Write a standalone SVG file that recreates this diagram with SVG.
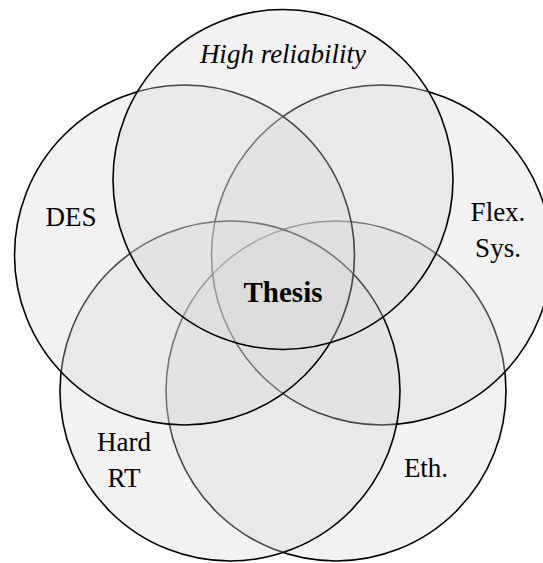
<svg xmlns="http://www.w3.org/2000/svg" width="543" height="563" viewBox="0 0 543 563">
  <style>
    .set { fill: #d7d7d7; fill-opacity: 0.325; stroke: #000; stroke-width: 1.6; }
    .lbl { font-family: "Liberation Serif", "Times New Roman", serif; font-size: 27px; fill: #000; text-anchor: middle; }
    .it { font-style: italic; }
    .bold { font-weight: bold; font-size: 29px; }
  </style>
  <rect width="543" height="563" fill="#fff"/>
  <!-- sets drawn back to front so later fills tint earlier outlines -->
  <g id="eth"><circle class="set" cx="336" cy="391" r="170"/></g>
  <g id="flex-sys"><circle class="set" cx="381.5" cy="255" r="170"/></g>
  <g id="hard-rt"><circle class="set" cx="230" cy="391" r="170"/></g>
  <g id="des"><circle class="set" cx="184.5" cy="255" r="170"/></g>
  <g id="high-reliability"><circle class="set" cx="283" cy="179.5" r="170"/></g>
  <g id="labels">
    <text class="lbl it" x="283" y="63">High reliability</text>
    <text class="lbl" x="71" y="226">DES</text>
    <text class="lbl" x="498" y="221">Flex.</text>
    <text class="lbl" x="498" y="257">Sys.</text>
    <text class="lbl" x="124" y="451">Hard</text>
    <text class="lbl" x="124" y="487">RT</text>
    <text class="lbl" x="426" y="477">Eth.</text>
    <text class="lbl bold" x="283" y="302">Thesis</text>
  </g>
</svg>
